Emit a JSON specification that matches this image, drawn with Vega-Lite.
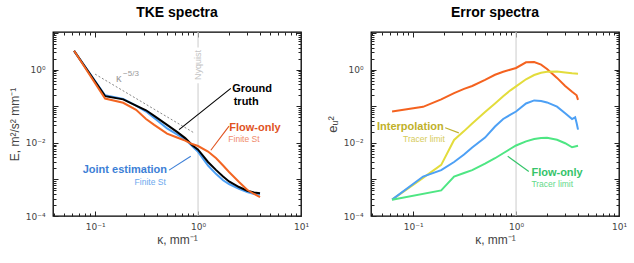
{
  "$schema": "https://vega.github.io/schema/vega-lite/v6.json",
  "padding": {"left": 7, "top": 5, "right": 5, "bottom": 5},
  "config": {
    "font": "Liberation Sans",
    "view": {"stroke": "#000", "strokeWidth": 1.3},
    "axis": {"zindex": 1, "ticks": true, "domain": false, "grid": false, "labelFont": "DejaVu Sans", "labelFontSize": 9, "labelColor": "#444", "titleFontSize": 12, "titleFontWeight": "normal", "titleColor": "#444", "tickColor": "#222", "tickWidth": 1, "labelOverlap": false, "labelBound": false, "labelFlush": false},
    "title": {"fontSize": 14, "fontWeight": "bold", "color": "#000", "offset": 9}
  },
  "datasets": {
    "tke": [
      {"k": 0.0625, "E": 3.3, "s": "Joint estimation"}, {"k": 0.125, "E": 0.2, "s": "Joint estimation"}, {"k": 0.1875, "E": 0.16, "s": "Joint estimation"}, {"k": 0.25, "E": 0.105, "s": "Joint estimation"}, {"k": 0.3125, "E": 0.072, "s": "Joint estimation"}, {"k": 0.375, "E": 0.048, "s": "Joint estimation"}, {"k": 0.5, "E": 0.025, "s": "Joint estimation"}, {"k": 0.625, "E": 0.017, "s": "Joint estimation"}, {"k": 0.75, "E": 0.0125, "s": "Joint estimation"}, {"k": 0.875, "E": 0.0082, "s": "Joint estimation"}, {"k": 1.0, "E": 0.0057, "s": "Joint estimation"}, {"k": 1.25, "E": 0.0024, "s": "Joint estimation"}, {"k": 1.5, "E": 0.0014, "s": "Joint estimation"}, {"k": 1.75, "E": 0.00095, "s": "Joint estimation"}, {"k": 2.0, "E": 0.00075, "s": "Joint estimation"}, {"k": 2.5, "E": 0.00055, "s": "Joint estimation"}, {"k": 3.0, "E": 0.00045, "s": "Joint estimation"}, {"k": 3.5, "E": 0.0004, "s": "Joint estimation"}, {"k": 4.0, "E": 0.00038, "s": "Joint estimation"},
      {"k": 0.0625, "E": 3.3, "s": "Ground truth"}, {"k": 0.125, "E": 0.19, "s": "Ground truth"}, {"k": 0.1875, "E": 0.155, "s": "Ground truth"}, {"k": 0.25, "E": 0.105, "s": "Ground truth"}, {"k": 0.3125, "E": 0.078, "s": "Ground truth"}, {"k": 0.375, "E": 0.055, "s": "Ground truth"}, {"k": 0.5, "E": 0.031, "s": "Ground truth"}, {"k": 0.625, "E": 0.02, "s": "Ground truth"}, {"k": 0.75, "E": 0.0135, "s": "Ground truth"}, {"k": 0.875, "E": 0.0088, "s": "Ground truth"}, {"k": 1.0, "E": 0.0065, "s": "Ground truth"}, {"k": 1.25, "E": 0.003, "s": "Ground truth"}, {"k": 1.5, "E": 0.0018, "s": "Ground truth"}, {"k": 1.75, "E": 0.0012, "s": "Ground truth"}, {"k": 2.0, "E": 0.00088, "s": "Ground truth"}, {"k": 2.5, "E": 0.00062, "s": "Ground truth"}, {"k": 3.0, "E": 0.00049, "s": "Ground truth"}, {"k": 3.5, "E": 0.00044, "s": "Ground truth"}, {"k": 4.0, "E": 0.00042, "s": "Ground truth"},
      {"k": 0.0625, "E": 3.3, "s": "Flow-only"}, {"k": 0.125, "E": 0.163, "s": "Flow-only"}, {"k": 0.1875, "E": 0.125, "s": "Flow-only"}, {"k": 0.25, "E": 0.08, "s": "Flow-only"}, {"k": 0.3125, "E": 0.045, "s": "Flow-only"}, {"k": 0.375, "E": 0.031, "s": "Flow-only"}, {"k": 0.5, "E": 0.018, "s": "Flow-only"}, {"k": 0.625, "E": 0.014, "s": "Flow-only"}, {"k": 0.75, "E": 0.0115, "s": "Flow-only"}, {"k": 0.875, "E": 0.0093, "s": "Flow-only"}, {"k": 1.0, "E": 0.0082, "s": "Flow-only"}, {"k": 1.25, "E": 0.0058, "s": "Flow-only"}, {"k": 1.5, "E": 0.0038, "s": "Flow-only"}, {"k": 1.75, "E": 0.0024, "s": "Flow-only"}, {"k": 2.0, "E": 0.0016, "s": "Flow-only"}, {"k": 2.5, "E": 0.00085, "s": "Flow-only"}, {"k": 3.0, "E": 0.00052, "s": "Flow-only"}, {"k": 3.5, "E": 0.0004, "s": "Flow-only"}, {"k": 4.0, "E": 0.00033, "s": "Flow-only"}
    ],
    "err": [
      {"k": 0.0625, "E": 0.072, "s": "Flow-only (finite St)"}, {"k": 0.125, "E": 0.097, "s": "Flow-only (finite St)"}, {"k": 0.1875, "E": 0.155, "s": "Flow-only (finite St)"}, {"k": 0.25, "E": 0.23, "s": "Flow-only (finite St)"}, {"k": 0.3125, "E": 0.3, "s": "Flow-only (finite St)"}, {"k": 0.375, "E": 0.36, "s": "Flow-only (finite St)"}, {"k": 0.5, "E": 0.53, "s": "Flow-only (finite St)"}, {"k": 0.625, "E": 0.73, "s": "Flow-only (finite St)"}, {"k": 0.75, "E": 0.88, "s": "Flow-only (finite St)"}, {"k": 0.875, "E": 1.0, "s": "Flow-only (finite St)"}, {"k": 1.0, "E": 1.12, "s": "Flow-only (finite St)"}, {"k": 1.25, "E": 1.6, "s": "Flow-only (finite St)"}, {"k": 1.5, "E": 1.62, "s": "Flow-only (finite St)"}, {"k": 1.75, "E": 1.38, "s": "Flow-only (finite St)"}, {"k": 2.0, "E": 1.05, "s": "Flow-only (finite St)"}, {"k": 2.5, "E": 0.6, "s": "Flow-only (finite St)"}, {"k": 3.0, "E": 0.36, "s": "Flow-only (finite St)"}, {"k": 3.5, "E": 0.25, "s": "Flow-only (finite St)"}, {"k": 3.875, "E": 0.2, "s": "Flow-only (finite St)"}, {"k": 4.0, "E": 0.15, "s": "Flow-only (finite St)"},
      {"k": 0.0625, "E": 0.00028, "s": "Interpolation"}, {"k": 0.125, "E": 0.0011, "s": "Interpolation"}, {"k": 0.1875, "E": 0.0025, "s": "Interpolation"}, {"k": 0.25, "E": 0.012, "s": "Interpolation"}, {"k": 0.3125, "E": 0.021, "s": "Interpolation"}, {"k": 0.375, "E": 0.034, "s": "Interpolation"}, {"k": 0.5, "E": 0.07, "s": "Interpolation"}, {"k": 0.625, "E": 0.12, "s": "Interpolation"}, {"k": 0.75, "E": 0.19, "s": "Interpolation"}, {"k": 0.875, "E": 0.27, "s": "Interpolation"}, {"k": 1.0, "E": 0.35, "s": "Interpolation"}, {"k": 1.25, "E": 0.55, "s": "Interpolation"}, {"k": 1.5, "E": 0.72, "s": "Interpolation"}, {"k": 1.75, "E": 0.83, "s": "Interpolation"}, {"k": 2.0, "E": 0.88, "s": "Interpolation"}, {"k": 2.5, "E": 0.9, "s": "Interpolation"}, {"k": 3.0, "E": 0.84, "s": "Interpolation"}, {"k": 3.5, "E": 0.8, "s": "Interpolation"}, {"k": 4.0, "E": 0.78, "s": "Interpolation"},
      {"k": 0.0625, "E": 0.00028, "s": "Joint estimation"}, {"k": 0.125, "E": 0.0012, "s": "Joint estimation"}, {"k": 0.1875, "E": 0.0018, "s": "Joint estimation"}, {"k": 0.25, "E": 0.003, "s": "Joint estimation"}, {"k": 0.3125, "E": 0.0048, "s": "Joint estimation"}, {"k": 0.375, "E": 0.0075, "s": "Joint estimation"}, {"k": 0.5, "E": 0.014, "s": "Joint estimation"}, {"k": 0.625, "E": 0.028, "s": "Joint estimation"}, {"k": 0.75, "E": 0.045, "s": "Joint estimation"}, {"k": 0.875, "E": 0.058, "s": "Joint estimation"}, {"k": 1.0, "E": 0.072, "s": "Joint estimation"}, {"k": 1.25, "E": 0.12, "s": "Joint estimation"}, {"k": 1.5, "E": 0.145, "s": "Joint estimation"}, {"k": 1.75, "E": 0.14, "s": "Joint estimation"}, {"k": 2.0, "E": 0.128, "s": "Joint estimation"}, {"k": 2.5, "E": 0.098, "s": "Joint estimation"}, {"k": 3.0, "E": 0.065, "s": "Joint estimation"}, {"k": 3.5, "E": 0.045, "s": "Joint estimation"}, {"k": 3.75, "E": 0.05, "s": "Joint estimation"}, {"k": 3.875, "E": 0.035, "s": "Joint estimation"}, {"k": 4.0, "E": 0.023, "s": "Joint estimation"},
      {"k": 0.0625, "E": 0.00028, "s": "Flow-only"}, {"k": 0.1875, "E": 0.0005, "s": "Flow-only"}, {"k": 0.25, "E": 0.0012, "s": "Flow-only"}, {"k": 0.3125, "E": 0.0015, "s": "Flow-only"}, {"k": 0.375, "E": 0.0018, "s": "Flow-only"}, {"k": 0.5, "E": 0.0027, "s": "Flow-only"}, {"k": 0.625, "E": 0.0038, "s": "Flow-only"}, {"k": 0.75, "E": 0.0052, "s": "Flow-only"}, {"k": 0.875, "E": 0.0068, "s": "Flow-only"}, {"k": 1.0, "E": 0.0085, "s": "Flow-only"}, {"k": 1.25, "E": 0.011, "s": "Flow-only"}, {"k": 1.5, "E": 0.0128, "s": "Flow-only"}, {"k": 1.75, "E": 0.0136, "s": "Flow-only"}, {"k": 2.0, "E": 0.0138, "s": "Flow-only"}, {"k": 2.5, "E": 0.0122, "s": "Flow-only"}, {"k": 3.0, "E": 0.0098, "s": "Flow-only"}, {"k": 3.5, "E": 0.0076, "s": "Flow-only"}, {"k": 4.0, "E": 0.0083, "s": "Flow-only"}
    ],
    "frame": [{"k": 1, "E": 0.001}, {"k": 1, "E": 1}]
  },
  "spacing": 15,
  "hconcat": [
    {
      "width": 248, "height": 184,
      "title": "TKE spectra",
      "resolve": {"axis": {"x": "independent", "y": "independent"}, "scale": {"color": "independent"}},
      "layer": [
        {"data": {"name": "frame"}, "mark": {"type": "point", "opacity": 0},
         "encoding": {
           "x": {"field": "k", "type": "quantitative", "scale": {"type": "log", "domain": [0.039, 10], "nice": false}, "axis": {"orient": "bottom", "values": [0.1, 1, 10], "labelExpr": "'10' + (datum.value < 0.5 ? '⁻¹' : datum.value < 5 ? '⁰' : '¹')", "tickSize": -5, "labelPadding": 11, "title": "κ, mm⁻¹", "titlePadding": 3}},
           "y": {"field": "E", "type": "quantitative", "scale": {"type": "log", "domain": [0.0001, 10.8], "nice": false}, "axis": {"orient": "left", "values": [0.0001, 0.001, 0.01, 0.1, 1, 10], "labelExpr": "datum.value < 0.0005 ? '10⁻⁴' : (datum.value > 0.005 && datum.value < 0.05) ? '10⁻²' : (datum.value > 0.5 && datum.value < 5) ? '10⁰' : ''", "tickSize": -5, "labelPadding": 13, "title": "E, m²/s² mm⁻¹", "titlePadding": 4}}
         }},
        {"data": {"name": "frame"}, "mark": {"type": "point", "opacity": 0},
         "encoding": {
           "x": {"field": "k", "type": "quantitative", "scale": {"type": "log", "domain": [0.039, 10], "nice": false}, "axis": {"orient": "bottom", "values": [0.04, 0.05, 0.06, 0.07, 0.08, 0.09, 0.2, 0.3, 0.4, 0.5, 0.6, 0.7, 0.8, 0.9, 2, 3, 4, 5, 6, 7, 8, 9], "labels": false, "tickSize": -3, "title": null}},
           "y": {"field": "E", "type": "quantitative", "scale": {"type": "log", "domain": [0.0001, 10.8], "nice": false}, "axis": {"orient": "left", "values": [0.0002, 0.0003, 0.0004, 0.0005, 0.0006, 0.0007, 0.0008, 0.0009, 0.002, 0.003, 0.004, 0.005, 0.006, 0.007, 0.008, 0.009, 0.02, 0.03, 0.04, 0.05, 0.06, 0.07, 0.08, 0.09, 0.2, 0.3, 0.4, 0.5, 0.6, 0.7, 0.8, 0.9, 2, 3, 4, 5, 6, 7, 8, 9], "labels": false, "tickSize": -3, "title": null}}
         }},
        {"data": {"name": "frame"}, "mark": {"type": "point", "opacity": 0},
         "encoding": {
           "x": {"field": "k", "type": "quantitative", "scale": {"type": "log", "domain": [0.039, 10], "nice": false}, "axis": {"orient": "top", "values": [0.1, 1, 10], "labels": false, "tickSize": -5, "title": null}},
           "y": {"field": "E", "type": "quantitative", "scale": {"type": "log", "domain": [0.0001, 10.8], "nice": false}, "axis": {"orient": "right", "values": [0.0001, 0.001, 0.01, 0.1, 1, 10], "labels": false, "tickSize": -5, "title": null}}
         }},
        {"data": {"name": "frame"}, "mark": {"type": "point", "opacity": 0},
         "encoding": {
           "x": {"field": "k", "type": "quantitative", "scale": {"type": "log", "domain": [0.039, 10], "nice": false}, "axis": {"orient": "top", "values": [0.04, 0.05, 0.06, 0.07, 0.08, 0.09, 0.2, 0.3, 0.4, 0.5, 0.6, 0.7, 0.8, 0.9, 2, 3, 4, 5, 6, 7, 8, 9], "labels": false, "tickSize": -3, "title": null}},
           "y": {"field": "E", "type": "quantitative", "scale": {"type": "log", "domain": [0.0001, 10.8], "nice": false}, "axis": {"orient": "right", "values": [0.0002, 0.0003, 0.0004, 0.0005, 0.0006, 0.0007, 0.0008, 0.0009, 0.002, 0.003, 0.004, 0.005, 0.006, 0.007, 0.008, 0.009, 0.02, 0.03, 0.04, 0.05, 0.06, 0.07, 0.08, 0.09, 0.2, 0.3, 0.4, 0.5, 0.6, 0.7, 0.8, 0.9, 2, 3, 4, 5, 6, 7, 8, 9], "labels": false, "tickSize": -3, "title": null}}
         }},
        {"data": {"values": [{"k": 1, "E1": 10.8, "E2": 4.1}, {"k": 1, "E1": 0.43, "E2": 0.0001}]}, "mark": {"type": "rule", "color": "#d4d4d4", "strokeWidth": 1.2},
         "encoding": {"x": {"field": "k", "type": "quantitative", "axis": null}, "y": {"field": "E1", "type": "quantitative", "axis": null}, "y2": {"field": "E2"}}},
        {"data": {"values": [{"k": 1, "E": 1.35, "t": "Nyquist"}]}, "mark": {"type": "text", "angle": 270, "color": "#c4c4c4", "fontSize": 9, "align": "center", "baseline": "middle"},
         "encoding": {"x": {"field": "k", "type": "quantitative", "axis": null}, "y": {"field": "E", "type": "quantitative", "axis": null}, "text": {"field": "t"}}},
        {"data": {"values": [{"k": 0.1, "E": 0.76}, {"k": 0.914, "E": 0.0188}]}, "mark": {"type": "line", "color": "#888", "strokeWidth": 1, "strokeDash": [2, 2]},
         "encoding": {"x": {"field": "k", "type": "quantitative", "axis": null}, "y": {"field": "E", "type": "quantitative", "axis": null}}},
        {"data": {"values": [{"k": 0.16, "E": 0.55, "t": "κ"}]}, "mark": {"type": "text", "color": "#999", "fontSize": 11, "align": "left", "baseline": "middle"},
         "encoding": {"x": {"field": "k", "type": "quantitative", "axis": null}, "y": {"field": "E", "type": "quantitative", "axis": null}, "text": {"field": "t"}}},
        {"data": {"values": [{"k": 0.16, "E": 0.55, "t": "−5/3"}]}, "mark": {"type": "text", "color": "#999", "fontSize": 8, "align": "left", "baseline": "middle", "dx": 7, "dy": -5},
         "encoding": {"x": {"field": "k", "type": "quantitative", "axis": null}, "y": {"field": "E", "type": "quantitative", "axis": null}, "text": {"field": "t"}}},
        {"data": {"name": "tke"}, "mark": {"type": "line", "strokeWidth": 2},
         "encoding": {"x": {"field": "k", "type": "quantitative", "axis": null}, "y": {"field": "E", "type": "quantitative", "axis": null},
           "color": {"field": "s", "type": "nominal", "legend": null, "sort": null, "scale": {"domain": ["Joint estimation", "Ground truth", "Flow-only"], "range": ["#4da0f5", "#000000", "#f26522"]}}}},
        {"data": {"values": [
           {"id": "g", "k": 2.08, "E": 0.31}, {"id": "g", "k": 0.654, "E": 0.023},
           {"id": "f", "k": 2.0, "E": 0.0287}, {"id": "f", "k": 1.33, "E": 0.0063},
           {"id": "j", "k": 0.523, "E": 0.0018}, {"id": "j", "k": 0.85, "E": 0.0043}]},
         "mark": {"type": "line", "strokeWidth": 1.1},
         "encoding": {"x": {"field": "k", "type": "quantitative", "axis": null}, "y": {"field": "E", "type": "quantitative", "axis": null},
           "color": {"field": "id", "type": "nominal", "legend": null, "scale": {"domain": ["g", "f", "j"], "range": ["#000000", "#e0531f", "#3d7fd6"]}}}},
        {"data": {"values": [
           {"id": "g", "k": 2.15, "E": 0.294, "t": "Ground"}, {"id": "g", "k": 2.22, "E": 0.13, "t": "truth"},
           {"id": "f", "k": 2.01, "E": 0.026, "t": "Flow-only"}]},
         "mark": {"type": "text", "fontSize": 11, "fontWeight": "bold", "align": "left", "baseline": "middle"},
         "encoding": {"x": {"field": "k", "type": "quantitative", "axis": null}, "y": {"field": "E", "type": "quantitative", "axis": null}, "text": {"field": "t"},
           "color": {"field": "id", "type": "nominal", "legend": null, "scale": {"domain": ["g", "f"], "range": ["#000000", "#e0531f"]}}}},
        {"data": {"values": [{"k": 1.97, "E": 0.0124, "t": "Finite St"}]},
         "mark": {"type": "text", "fontSize": 8.5, "align": "left", "baseline": "middle", "color": "#f08a6a"},
         "encoding": {"x": {"field": "k", "type": "quantitative", "axis": null}, "y": {"field": "E", "type": "quantitative", "axis": null}, "text": {"field": "t"}}},
        {"data": {"values": [{"k": 0.5, "E": 0.0018, "t": "Joint estimation"}]},
         "mark": {"type": "text", "fontSize": 11, "fontWeight": "bold", "align": "right", "baseline": "middle", "color": "#3d7fd6"},
         "encoding": {"x": {"field": "k", "type": "quantitative", "axis": null}, "y": {"field": "E", "type": "quantitative", "axis": null}, "text": {"field": "t"}}},
        {"data": {"values": [{"k": 0.486, "E": 0.00087, "t": "Finite St"}]},
         "mark": {"type": "text", "fontSize": 8.5, "align": "right", "baseline": "middle", "color": "#6aa8ee"},
         "encoding": {"x": {"field": "k", "type": "quantitative", "axis": null}, "y": {"field": "E", "type": "quantitative", "axis": null}, "text": {"field": "t"}}}
      ]
    },
    {
      "width": 248, "height": 184,
      "title": "Error spectra",
      "resolve": {"axis": {"x": "independent", "y": "independent"}, "scale": {"color": "independent"}},
      "layer": [
        {"data": {"name": "frame"}, "mark": {"type": "point", "opacity": 0},
         "encoding": {
           "x": {"field": "k", "type": "quantitative", "scale": {"type": "log", "domain": [0.039, 10], "nice": false}, "axis": {"orient": "bottom", "values": [0.1, 1, 10], "labelExpr": "'10' + (datum.value < 0.5 ? '⁻¹' : datum.value < 5 ? '⁰' : '¹')", "tickSize": -5, "labelPadding": 11, "title": "κ, mm⁻¹", "titlePadding": 3}},
           "y": {"field": "E", "type": "quantitative", "scale": {"type": "log", "domain": [0.0001, 10.8], "nice": false}, "axis": {"orient": "left", "values": [0.0001, 0.001, 0.01, 0.1, 1, 10], "labelExpr": "datum.value < 0.0005 ? '10⁻⁴' : (datum.value > 0.005 && datum.value < 0.05) ? '10⁻²' : (datum.value > 0.5 && datum.value < 5) ? '10⁰' : ''", "tickSize": -5, "labelPadding": 13, "title": "eᵤ²", "titlePadding": 4, "titleFontSize": 13}}
         }},
        {"data": {"name": "frame"}, "mark": {"type": "point", "opacity": 0},
         "encoding": {
           "x": {"field": "k", "type": "quantitative", "scale": {"type": "log", "domain": [0.039, 10], "nice": false}, "axis": {"orient": "bottom", "values": [0.04, 0.05, 0.06, 0.07, 0.08, 0.09, 0.2, 0.3, 0.4, 0.5, 0.6, 0.7, 0.8, 0.9, 2, 3, 4, 5, 6, 7, 8, 9], "labels": false, "tickSize": -3, "title": null}},
           "y": {"field": "E", "type": "quantitative", "scale": {"type": "log", "domain": [0.0001, 10.8], "nice": false}, "axis": {"orient": "left", "values": [0.0002, 0.0003, 0.0004, 0.0005, 0.0006, 0.0007, 0.0008, 0.0009, 0.002, 0.003, 0.004, 0.005, 0.006, 0.007, 0.008, 0.009, 0.02, 0.03, 0.04, 0.05, 0.06, 0.07, 0.08, 0.09, 0.2, 0.3, 0.4, 0.5, 0.6, 0.7, 0.8, 0.9, 2, 3, 4, 5, 6, 7, 8, 9], "labels": false, "tickSize": -3, "title": null}}
         }},
        {"data": {"name": "frame"}, "mark": {"type": "point", "opacity": 0},
         "encoding": {
           "x": {"field": "k", "type": "quantitative", "scale": {"type": "log", "domain": [0.039, 10], "nice": false}, "axis": {"orient": "top", "values": [0.1, 1, 10], "labels": false, "tickSize": -5, "title": null}},
           "y": {"field": "E", "type": "quantitative", "scale": {"type": "log", "domain": [0.0001, 10.8], "nice": false}, "axis": {"orient": "right", "values": [0.0001, 0.001, 0.01, 0.1, 1, 10], "labels": false, "tickSize": -5, "title": null}}
         }},
        {"data": {"name": "frame"}, "mark": {"type": "point", "opacity": 0},
         "encoding": {
           "x": {"field": "k", "type": "quantitative", "scale": {"type": "log", "domain": [0.039, 10], "nice": false}, "axis": {"orient": "top", "values": [0.04, 0.05, 0.06, 0.07, 0.08, 0.09, 0.2, 0.3, 0.4, 0.5, 0.6, 0.7, 0.8, 0.9, 2, 3, 4, 5, 6, 7, 8, 9], "labels": false, "tickSize": -3, "title": null}},
           "y": {"field": "E", "type": "quantitative", "scale": {"type": "log", "domain": [0.0001, 10.8], "nice": false}, "axis": {"orient": "right", "values": [0.0002, 0.0003, 0.0004, 0.0005, 0.0006, 0.0007, 0.0008, 0.0009, 0.002, 0.003, 0.004, 0.005, 0.006, 0.007, 0.008, 0.009, 0.02, 0.03, 0.04, 0.05, 0.06, 0.07, 0.08, 0.09, 0.2, 0.3, 0.4, 0.5, 0.6, 0.7, 0.8, 0.9, 2, 3, 4, 5, 6, 7, 8, 9], "labels": false, "tickSize": -3, "title": null}}
         }},
        {"data": {"values": [{"k": 1, "E1": 10.8, "E2": 0.0001}]}, "mark": {"type": "rule", "color": "#d4d4d4", "strokeWidth": 1.2},
         "encoding": {"x": {"field": "k", "type": "quantitative", "axis": null}, "y": {"field": "E1", "type": "quantitative", "axis": null}, "y2": {"field": "E2"}}},
        {"data": {"name": "err"}, "mark": {"type": "line", "strokeWidth": 2},
         "encoding": {"x": {"field": "k", "type": "quantitative", "axis": null}, "y": {"field": "E", "type": "quantitative", "axis": null},
           "color": {"field": "s", "type": "nominal", "legend": null, "sort": null, "scale": {"domain": ["Flow-only (finite St)", "Interpolation", "Joint estimation", "Flow-only"], "range": ["#f4621f", "#e3dc3c", "#4da0f5", "#4ee683"]}}}},
        {"data": {"values": [
           {"id": "i", "k": 0.205, "E": 0.0259}, {"id": "i", "k": 0.278, "E": 0.0188},
           {"id": "f", "k": 1.33, "E": 0.00165}, {"id": "f", "k": 0.83, "E": 0.0043}]},
         "mark": {"type": "line", "strokeWidth": 1.1},
         "encoding": {"x": {"field": "k", "type": "quantitative", "axis": null}, "y": {"field": "E", "type": "quantitative", "axis": null},
           "color": {"field": "id", "type": "nominal", "legend": null, "scale": {"domain": ["i", "f"], "range": ["#bfb12a", "#35c46a"]}}}},
        {"data": {"values": [{"k": 0.198, "E": 0.027, "t": "Interpolation"}]},
         "mark": {"type": "text", "fontSize": 11, "fontWeight": "bold", "align": "right", "baseline": "middle", "color": "#bfb12a"},
         "encoding": {"x": {"field": "k", "type": "quantitative", "axis": null}, "y": {"field": "E", "type": "quantitative", "axis": null}, "text": {"field": "t"}}},
        {"data": {"values": [{"k": 0.08, "E": 0.013, "t": "Tracer limit"}]},
         "mark": {"type": "text", "fontSize": 8.5, "align": "left", "baseline": "middle", "color": "#d6cb5a"},
         "encoding": {"x": {"field": "k", "type": "quantitative", "axis": null}, "y": {"field": "E", "type": "quantitative", "axis": null}, "text": {"field": "t"}}},
        {"data": {"values": [{"k": 1.41, "E": 0.0015, "t": "Flow-only"}]},
         "mark": {"type": "text", "fontSize": 11, "fontWeight": "bold", "align": "left", "baseline": "middle", "color": "#35c46a"},
         "encoding": {"x": {"field": "k", "type": "quantitative", "axis": null}, "y": {"field": "E", "type": "quantitative", "axis": null}, "text": {"field": "t"}}},
        {"data": {"values": [{"k": 1.41, "E": 0.00074, "t": "Tracer limit"}]},
         "mark": {"type": "text", "fontSize": 8.5, "align": "left", "baseline": "middle", "color": "#63d98a"},
         "encoding": {"x": {"field": "k", "type": "quantitative", "axis": null}, "y": {"field": "E", "type": "quantitative", "axis": null}, "text": {"field": "t"}}}
      ]
    }
  ]
}
